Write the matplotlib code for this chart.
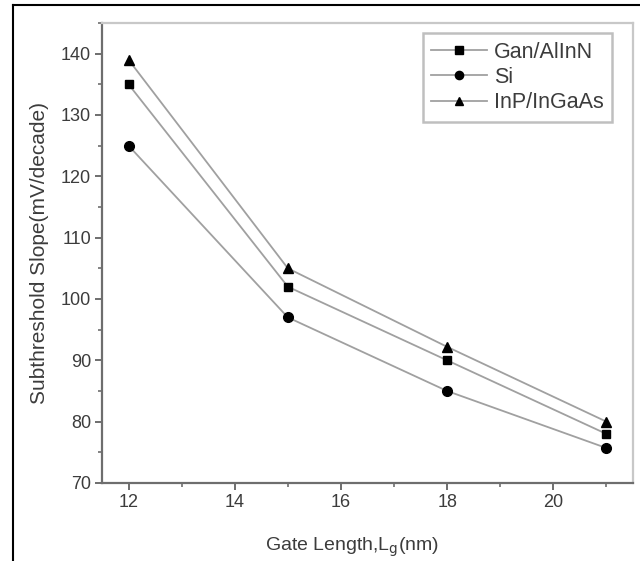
import matplotlib.pyplot as plt
from matplotlib.lines import Line2D
from matplotlib.ticker import MultipleLocator

plt.rcParams['font.family'] = ['Liberation Sans', 'DejaVu Sans']

# Données
gate_length = [12, 15, 18, 21]
gan_alinn = [135, 102, 90, 78]
si = [125, 97, 85, 75.7]
inp_ingaas = [139, 105, 92.2, 80]

line_col = '#a0a0a0'
axis_col = '#6e6e6e'
text_col = '#3c3c3c'

fig = plt.figure(figsize=(6.4, 5.61), dpi=100)
ax = fig.add_axes([102/640, 1 - 483/561, (633 - 102)/640, (483 - 23)/561])

ax.plot(gate_length, gan_alinn, marker='s', ms=6, color=line_col, lw=1.3,
        mfc='black', mec='black', label='Gan/AlInN')
ax.plot(gate_length, si, marker='o', ms=7, color=line_col, lw=1.3,
        mfc='black', mec='black', label='Si')
ax.plot(gate_length, inp_ingaas, marker='^', ms=7, color=line_col, lw=1.3,
        mfc='black', mec='black', label='InP/InGaAs')

ax.set_xlim(11.5, 21.5)
ax.set_ylim(70, 145)
ax.xaxis.set_major_locator(MultipleLocator(2))
ax.xaxis.set_minor_locator(MultipleLocator(1))
ax.yaxis.set_major_locator(MultipleLocator(10))
ax.yaxis.set_minor_locator(MultipleLocator(5))

for s in ['left', 'bottom']:
    ax.spines[s].set_color(axis_col)
    ax.spines[s].set_linewidth(1.6)
for s in ['top', 'right']:
    ax.spines[s].set_color('#c8c8c8')
    ax.spines[s].set_linewidth(1.6)

ax.tick_params(which='major', direction='out', length=5, width=1.4,
               color=axis_col, labelcolor=text_col, labelsize=13, pad=3)
ax.tick_params(which='minor', direction='out', length=3, width=1.2, color=axis_col)

ax.set_xlabel('Gate Length,L$_\\mathrm{g}$(nm)', fontsize=14, color=text_col)
ax.set_ylabel('Subthreshold Slope(mV/decade)', fontsize=15, color=text_col)
ax.xaxis.set_label_coords(0.47, -0.115)
ax.yaxis.set_label_coords(-0.1, 0.5)

leg = ax.legend(loc='upper right', bbox_to_anchor=(612/640, 1 - 33/561),
                bbox_transform=fig.transFigure, borderaxespad=0, fontsize=15.5,
                frameon=True, fancybox=False, handlelength=2.6, handletextpad=0.3,
                labelspacing=0.2, borderpad=0.4, markerscale=0.85,
                labelcolor=text_col)
leg.get_frame().set_edgecolor('#b0b0b0')
leg.get_frame().set_linewidth(1.8)

# cadre extérieur noir (gauche et haut)
fig.add_artist(Line2D([13/640, 13/640], [0, 1 - 5/561], color='black', lw=1.5,
                      transform=fig.transFigure))
fig.add_artist(Line2D([13/640, 1], [1 - 5/561, 1 - 5/561], color='black', lw=1.5,
                      transform=fig.transFigure))

fig.savefig('out.png', dpi=100)
